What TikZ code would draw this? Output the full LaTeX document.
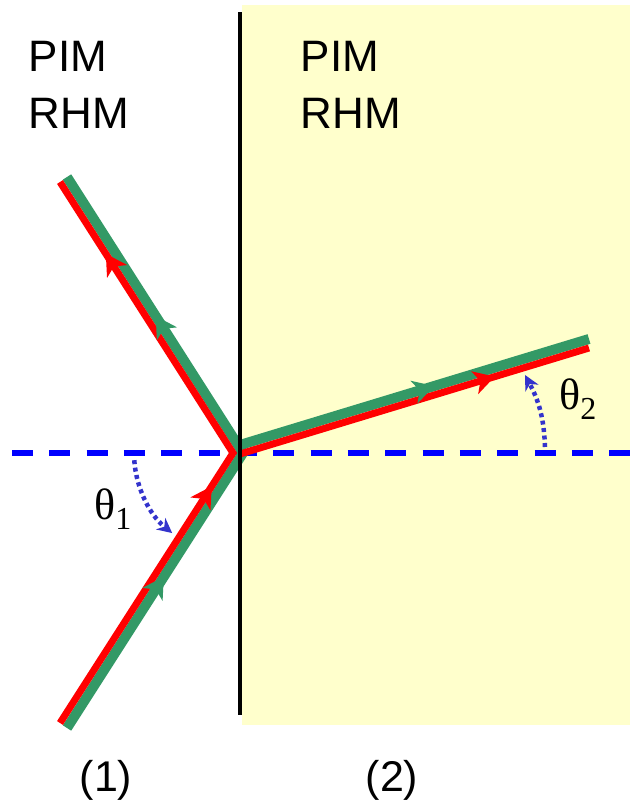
\documentclass[tikz,border=0pt]{standalone}
\usepackage{fontspec}
\setmainfont{Liberation Sans}
\newfontfamily\greekfont{Liberation Serif}
\usetikzlibrary{arrows.meta,decorations.markings}
\definecolor{cWave}{RGB}{255,0,0}
\definecolor{cPoynting}{RGB}{51,153,102}
\definecolor{cNormal}{RGB}{0,0,255}
\definecolor{cAngle}{RGB}{51,51,204}
\definecolor{cMedium}{RGB}{255,255,204}

\tikzset{
  wave/.style={cWave, line width=7pt, line join=miter},
  poynting/.style={cPoynting, line width=10pt, line join=miter},
  tipat/.style 2 args={decorate, decoration={markings, mark=at position #1 with {\fill[#2] (0pt,0pt) -- (-21pt,12pt) -- (-15pt,0pt) -- (-21pt,-12pt) -- cycle;}}},
  medium/.style={font=\fontsize{44}{57}\selectfont, align=left, anchor=north west, inner sep=0pt},
  sidelabel/.style={font=\fontsize{43}{50}\selectfont, inner sep=0pt},
  anglemark/.style={cAngle, line width=4.5pt, dash pattern=on 4pt off 3.5pt, -{Stealth[length=15pt,width=15pt,line width=0pt]}},
  anglelabel/.style={font=\greekfont\fontsize{44}{44}\selectfont, inner sep=0pt, anchor=base west},
}

\newcommand{\angsub}[2]{#1\raisebox{-10pt}{\fontsize{32}{32}\selectfont #2}}

\begin{document}
\begin{tikzpicture}[x=1pt,y=1pt]
  \useasboundingbox (0,0) rectangle (633,807);
  % medium (2)
  \fill[cMedium] (241.5,82) rectangle (630,802);
  \draw[cNormal, line width=5.5pt, dash pattern=on 21pt off 16.33pt] (12,354) -- (630,354);

  \coordinate (O) at (237,354);
  % red: wave vector, green: Poynting vector
  \coordinate (rU) at (60,625);
  \coordinate (rV) at (233,354);
  \coordinate (rD) at (60,84);
  \coordinate (rT0) at (240,353);
  \coordinate (rT) at (589,459);
  \coordinate (gU) at (67,630);
  \coordinate (gV) at (243,354);
  \coordinate (gD) at (67,79);
  \coordinate (gT0) at (240,362);
  \coordinate (gT) at (589,468);

  \draw[poynting] (gU) -- (gV) -- (gD);
  \draw[poynting] (gT0) -- (gT);
  \draw[wave] (rU) -- (rV) -- (rD);
  \draw[wave] (rT0) -- (rT);

  % arrowheads
  \path[tipat={0.496}{cPoynting}] (gV) -- (gU);
  \path[tipat={0.55}{cPoynting}] (gD) -- (gV);
  \path[tipat={0.556}{cPoynting}] (gT0) -- (gT);
  \path[tipat={0.735}{cWave}] (rV) -- (rU);
  \path[tipat={0.877}{cWave}] (rD) -- (rV);
  \path[tipat={0.73}{cWave}] (rT0) -- (rT);

  % interface
  \coordinate (top) at (239.7,795);
  \coordinate (bot) at (239.7,92);
  \draw[line width=4pt] (bot) -- (top);

  % angles
  \draw[anglemark] (O) ++(184:103) arc[start angle=184, end angle=231, radius=103];
  \coordinate (t2s) at (545,360);
  \coordinate (t2e) at (525,432);
  \draw[anglemark] (t2s) to[out=92, in=-62] (t2e);
  \node[anglelabel] (th1) at (94,287) {\angsub{θ}{1}};
  \node[anglelabel] (th2) at (559,397) {\angsub{θ}{2}};

  \node[medium] (med1) at (28.5,766) {PIM\\RHM};
  \node[medium] (med2) at (300.5,766) {PIM\\RHM};
  \node[sidelabel] (lab1) at (106,27) {(1)};
  \node[sidelabel] (lab2) at (392,27) {(2)};
\end{tikzpicture}
\end{document}
